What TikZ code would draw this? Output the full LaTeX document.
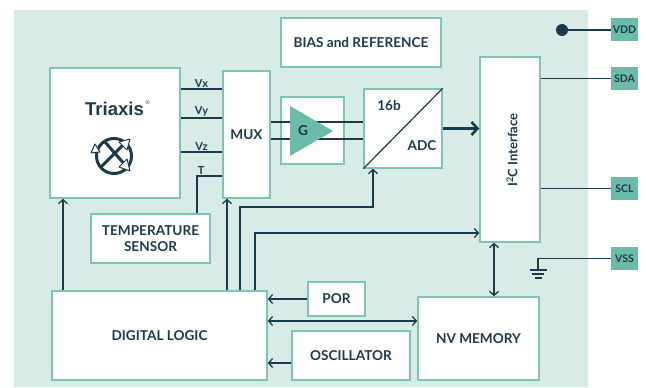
\documentclass[tikz,border=0pt]{standalone}
\usepackage{fontspec}
\setmainfont{Lato}
\newfontfamily\logofont{Liberation Sans}
\usetikzlibrary{arrows.meta,calc}
\definecolor{bgc}{HTML}{D9EBE7}
\definecolor{edgec}{HTML}{7CC5B4}
\definecolor{navy}{HTML}{1B3B4D}
\definecolor{pinc}{HTML}{6ABBAA}
\begin{document}
\begin{tikzpicture}[x=1pt,y=-1pt,
  blk/.style={draw=edgec, line width=1.5pt, fill=white, text=navy, font=\bfseries\fontsize{13.6}{16.5}\selectfont, align=center, inner sep=0pt},
  pin/.style={fill=pinc, text=navy, font=\bfseries\fontsize{10.5}{11}\selectfont, minimum width=27pt, minimum height=23pt, inner sep=0pt},
  wire/.style={draw=navy, line width=1.4pt},
  tip/.style={-{Straight Barb[length=4pt,width=9pt,line width=1.3pt]}},
  tips/.style={{Straight Barb[length=4pt,width=9pt,line width=1.3pt]}-{Straight Barb[length=4pt,width=9pt,line width=1.3pt]}},
  lbl/.style={text=navy, font=\bfseries\fontsize{11}{12}\selectfont, inner sep=1pt},
  txt/.style={text=navy, font=\bfseries\fontsize{13.6}{16}\selectfont, inner sep=0pt}
]
\useasboundingbox (0,0) rectangle (646,388);
\fill[bgc] (14,10) rectangle (588,387);

% blocks
\node[blk, minimum width=130pt, minimum height=130pt] (tri) at (115,133) {};
\node[blk, minimum width=47pt, minimum height=127pt] (mux) at (246.5,134.5) {MUX};
\node[blk, minimum width=160pt, minimum height=49pt] (bias) at (361,42.5) {BIAS and REFERENCE};
\node[blk, minimum width=63pt, minimum height=67pt] (gbox) at (312.5,130.5) {};
\node[blk, minimum width=78pt, minimum height=79pt] (adc) at (403,128.5) {};
\node[blk, minimum width=60pt, minimum height=185pt] (i2c) at (510,149.5) {};
\node[blk, minimum width=119pt, minimum height=49pt] (temp) at (150.5,238.5) {TEMPERATURE\\SENSOR};
\node[blk, minimum width=215pt, minimum height=89pt] (dig) at (159.5,335.5) {DIGITAL LOGIC};
\node[blk, minimum width=57pt, minimum height=34pt] (por) at (336.5,299) {POR};
\node[blk, minimum width=118pt, minimum height=49pt] (osc) at (351,355.5) {OSCILLATOR};
\node[blk, minimum width=121pt, minimum height=83pt] (nvm) at (478.5,338.5) {NV MEMORY};

% Triaxis logo
\node[text=navy, font=\logofont\bfseries\fontsize{18.5}{19}\selectfont, inner sep=0pt] (trit) at (114.5,108.5) {Triaxis};
\node[text=navy, font=\logofont\fontsize{5.5}{6}\selectfont, inner sep=0pt, anchor=west] (reg) at (145.5,103) {®};
\begin{scope}[navy, line width=3pt]
  \draw (114,156) circle (17.5);
  \draw (105,142) -- (126,166);
  \draw (100,168) -- (126,142);
\end{scope}
\begin{scope}[draw=navy, fill=white, line width=1pt, line join=round]
  \filldraw (130,139) -- (119,142) -- (127,150) -- cycle;
  \filldraw (130,171) -- (119,167) -- (127,159) -- cycle;
  \filldraw (95,144) -- (91,153) -- (100,152) -- cycle;
\end{scope}

% sensor outputs
\draw[wire] (tri.east |- 0,89) -- node[lbl, above] {Vx} (mux.west |- 0,89);
\draw[wire] (tri.east |- 0,118) -- node[lbl, above] {Vy} (mux.west |- 0,118);
\draw[wire] (tri.east |- 0,152) -- node[lbl, above] {Vz} (mux.west |- 0,152);
\draw[wire] (temp.north -| 197,0) -- (197,176) -- node[lbl, above, pos=0.17] {T} (mux.west |- 0,176);

% gain stage
\draw[wire] (mux.east |- 0,122) -- (adc.west |- 0,122);
\draw[wire] (mux.east |- 0,139) -- (adc.west |- 0,139);
\fill[pinc] (290,106) -- (290,156) -- (333,131) -- cycle;
\node[txt] (g) at (303,131) {G};

% ADC
\draw[navy, line width=1.2pt] (adc.south west) -- (adc.north east);
\node[txt] (b16) at (389,106) {16b};
\node[txt] (adct) at (422,146) {ADC};
\draw[navy, line width=3pt, -{Straight Barb[length=6pt,width=13pt,line width=2.6pt]}] (adc.east) -- (i2c.west |- adc.east);

% I2C
\node[txt, rotate=90, font=\bfseries\fontsize{13}{14}\selectfont] (i2ct) at (512,150) {I\textsuperscript{2}C Interface};

% pins
\node[pin] (vdd) at (624.5,29.5) {VDD};
\node[pin] (sda) at (624.5,78.5) {SDA};
\node[pin] (scl) at (624.5,188.5) {SCL};
\node[pin] (vss) at (624.5,258.5) {VSS};
\node[circle, fill=navy, minimum size=12pt, inner sep=0pt] (dot) at (562,30) {};
\draw[wire] (dot) -- (vdd.west |- dot);
\draw[wire] (i2c.east |- sda) -- (sda.west);
\draw[wire] (i2c.east |- scl) -- (scl.west);
\coordinate (gnd) at (538,270);
\draw[wire] (vss.west) -- (gnd |- vss.west) -- (gnd);
\draw[navy, line width=1.4pt] ($(gnd)+(-8.5,0)$) -- ($(gnd)+(8.5,0)$);
\draw[navy, line width=1.4pt] ($(gnd)+(-6,4)$) -- ($(gnd)+(6,4)$);
\draw[navy, line width=1.4pt] ($(gnd)+(-3.5,8)$) -- ($(gnd)+(3.5,8)$);

% digital logic connections
\draw[wire, tip] (dig.north -| 63,0) -- (tri.south -| 63,0);
\draw[wire, tip] (dig.north -| 227,0) -- (mux.south -| 227,0);
\draw[wire, tip] (dig.north -| 240,0) -- (240,207) -- (373,207) -- (adc.south -| 373,0);
\draw[wire, tip] (dig.north -| 255,0) -- (255,233) -- (i2c.west |- 0,233);
\draw[wire, tip] (por.west) -- (dig.east |- por.west);
\draw[wire, tips] (dig.east |- 0,321) -- (nvm.west |- 0,321);
\draw[wire, tip] (osc.west |- 0,363) -- (dig.east |- 0,363);
\draw[wire, tips] (i2c.south -| 494,0) -- (nvm.north -| 494,0);
\end{tikzpicture}
\end{document}
